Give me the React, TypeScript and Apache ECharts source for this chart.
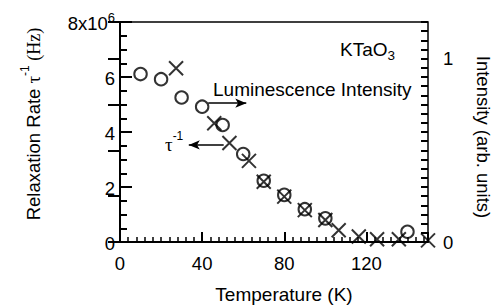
import React, { useEffect, useRef } from "react";
import * as echarts from "echarts";

// Luminescence intensity (circles, right axis, arb. units)
const lumTemps = [10, 20, 30, 40, 50, 60, 70, 80, 90, 100, 140];
const lumValues = [0.916, 0.888, 0.788, 0.738, 0.638, 0.48, 0.334, 0.257, 0.179, 0.129, 0.056];

// Relaxation rate tau^-1 (crosses, left axis, units of 1e6 Hz)
const tauTemps = [27.3, 45.9, 53.3, 62.8, 70, 80, 90, 100, 106.5, 116.3, 125.2, 135.8, 150];
const tauValues = [6.32, 4.32, 3.6, 2.95, 2.19, 1.65, 1.16, 0.8, 0.43, 0.2, 0.1, 0.1, 0.06];

const xTicks = [0, 40, 80, 120];
const leftTicks = [0, 2, 4, 6, 8];
const rightTicks = [0, 1];

const SANS = "'Liberation Sans', Arial, Helvetica, sans-serif";
const SERIF = "'Liberation Serif', 'Times New Roman', serif";

export default function App() {
  const ref = useRef<HTMLDivElement>(null);

  useEffect(() => {
    if (!ref.current) return;
    const chart = echarts.init(ref.current, null, { renderer: "svg" });

    const lumData = lumTemps.map((t, i) => [t, lumValues[i]]);
    const tauData = tauTemps.map((t, i) => [t, tauValues[i]]);

    const option: any = {
      animation: false,
      backgroundColor: "#fff",
      textStyle: { fontFamily: SANS, color: "#000" },
      grid: {
        left: 120,
        top: 22,
        width: 308,
        height: 220,
        show: true,
        borderColor: "#000",
        borderWidth: 1.5,
        backgroundColor: "transparent",
      },
      xAxis: [
        {
          type: "value",
          min: 0,
          max: 150,
          interval: 40,
          position: "bottom",
          axisLine: { show: true, lineStyle: { color: "#000", width: 2 } },
          axisTick: { show: true, inside: true, length: 10, lineStyle: { color: "#000", width: 2 } },
          axisLabel: {
            margin: 12,
            fontSize: 18.5,
            fontFamily: SANS,
            color: "#000",
            formatter: (v: number) => (xTicks.includes(v) ? String(v) : ""),
          },
          splitLine: { show: false },
        },
        {
          type: "value",
          min: 0,
          max: 150,
          interval: 4,
          position: "bottom",
          axisLine: { show: false },
          axisTick: { show: true, inside: true, length: 5, lineStyle: { color: "#000", width: 1.5 } },
          axisLabel: { show: false },
          splitLine: { show: false },
        },
      ],
      yAxis: [
        {
          type: "value",
          min: 0,
          max: 8,
          interval: 2,
          position: "left",
          axisLine: { show: true, lineStyle: { color: "#000", width: 2 } },
          axisTick: { show: true, inside: true, length: 12, lineStyle: { color: "#000", width: 2 } },
          minorTick: { show: true, splitNumber: 4, length: 7, lineStyle: { color: "#000", width: 2 } },
          axisLabel: {
            margin: 5,
            fontSize: 18.5,
            fontFamily: SANS,
            color: "#000",
            formatter: (v: number) =>
              v === 8 ? "{b|8x10}{sup|6}" : leftTicks.includes(v) ? "{b|" + v + "}" : "",
            rich: {
              b: { fontSize: 18.5, fontFamily: SANS, color: "#000", lineHeight: 22, verticalAlign: "bottom" },
              sup: { fontSize: 13, fontFamily: SANS, color: "#000", lineHeight: 13, verticalAlign: "top" },
            },
          },
          splitLine: { show: false },
        },
        {
          type: "value",
          min: 0,
          max: 1.2,
          interval: 0.25,
          position: "right",
          axisLine: { show: true, lineStyle: { color: "#000", width: 2 } },
          axisTick: { show: true, inside: true, length: 12, lineStyle: { color: "#000", width: 2 } },
          axisLabel: {
            margin: 15,
            fontSize: 18.5,
            fontFamily: SANS,
            color: "#000",
            formatter: (v: number) => {
              const r = rightTicks.find((t) => Math.abs(t - v) < 1e-9);
              return r === undefined ? "" : String(r);
            },
          },
          splitLine: { show: false },
        },
        {
          type: "value",
          min: 0,
          max: 1.2,
          interval: 0.05,
          position: "right",
          axisLine: { show: false },
          axisTick: { show: true, inside: true, length: 7, lineStyle: { color: "#000", width: 2 } },
          axisLabel: { show: false },
          splitLine: { show: false },
        },
      ],
      series: [
        {
          name: "Luminescence Intensity",
          type: "scatter",
          xAxisIndex: 0,
          yAxisIndex: 1,
          data: lumData,
          symbol: "circle",
          symbolSize: 12.5,
          itemStyle: { color: "transparent", borderColor: "#000", borderWidth: 2 },
        },
        {
          name: "tau-1",
          type: "scatter",
          xAxisIndex: 0,
          yAxisIndex: 0,
          data: tauData,
          symbol: "path://M0,0L10,10M10,0L0,10",
          symbolSize: 14,
          itemStyle: { color: "transparent", borderColor: "#000", borderWidth: 2 },
          markLine: {
            silent: true,
            animation: false,
            label: { show: false },
            lineStyle: { color: "#000", width: 1.5, type: "solid" },
            data: [
              [
                { coord: [43, 5.05], symbol: "none" },
                { coord: [61.5, 5.05], symbol: "arrow", symbolSize: [7, 11] },
              ],
              [
                { coord: [33.5, 3.53], symbol: "arrow", symbolSize: [7, 11] },
                { coord: [50.5, 3.53], symbol: "none" },
              ],
            ],
          },
        },
      ],
      graphic: [
        {
          type: "text",
          left: 340,
          top: 40,
          style: {
            text: "{a|KTaO}{s|3}",
            rich: {
              a: { fontSize: 19, fontFamily: SANS, fill: "#000", lineHeight: 22, verticalAlign: "top" },
              s: { fontSize: 13.5, fontFamily: SANS, fill: "#000", lineHeight: 13, verticalAlign: "bottom" },
            },
          },
        },
        {
          type: "text",
          x: 213,
          y: 89,
          style: {
            text: "Luminescence Intensity",
            fontSize: 19,
            fontFamily: SANS,
            fill: "#000",
            align: "left",
            verticalAlign: "middle",
          },
        },
        {
          type: "text",
          x: 165,
          y: 142,
          style: {
            text: "{t|τ}{s|-1}",
            align: "left",
            verticalAlign: "middle",
            rich: {
              t: { fontSize: 19, fontFamily: SERIF, fill: "#000", lineHeight: 24, verticalAlign: "bottom" },
              s: { fontSize: 12, fontFamily: SANS, fill: "#000", lineHeight: 12, verticalAlign: "top" },
            },
          },
        },
        {
          type: "text",
          x: 284,
          y: 294,
          style: {
            text: "Temperature (K)",
            fontSize: 19,
            fontFamily: SANS,
            fill: "#000",
            align: "center",
            verticalAlign: "middle",
          },
        },
        {
          type: "text",
          x: 31,
          y: 124,
          rotation: Math.PI / 2,
          style: {
            text: "{a|Relaxation Rate }{t|τ}{s|-1}{h| (Hz)}",
            align: "center",
            verticalAlign: "middle",
            rich: {
              a: { fontSize: 18.5, fontFamily: SANS, fill: "#000", lineHeight: 24, verticalAlign: "bottom" },
              t: { fontSize: 19, fontFamily: SERIF, fill: "#000", lineHeight: 24, verticalAlign: "bottom" },
              s: { fontSize: 12, fontFamily: SANS, fill: "#000", lineHeight: 12, verticalAlign: "top" },
              h: { fontSize: 18, fontFamily: SERIF, fill: "#000", lineHeight: 24, verticalAlign: "bottom" },
            },
          },
        },
        {
          type: "text",
          x: 483,
          y: 137,
          rotation: -Math.PI / 2,
          style: {
            text: "Intensity (arb. units)",
            fontSize: 18.5,
            fontFamily: SANS,
            fill: "#000",
            align: "center",
            verticalAlign: "middle",
          },
        },
      ],
    };

    chart.setOption(option);
    return () => chart.dispose();
  }, []);

  return (
    <div
      ref={ref}
      style={{ position: "fixed", left: 0, top: 0, width: 493, height: 307 }}
    />
  );
}
